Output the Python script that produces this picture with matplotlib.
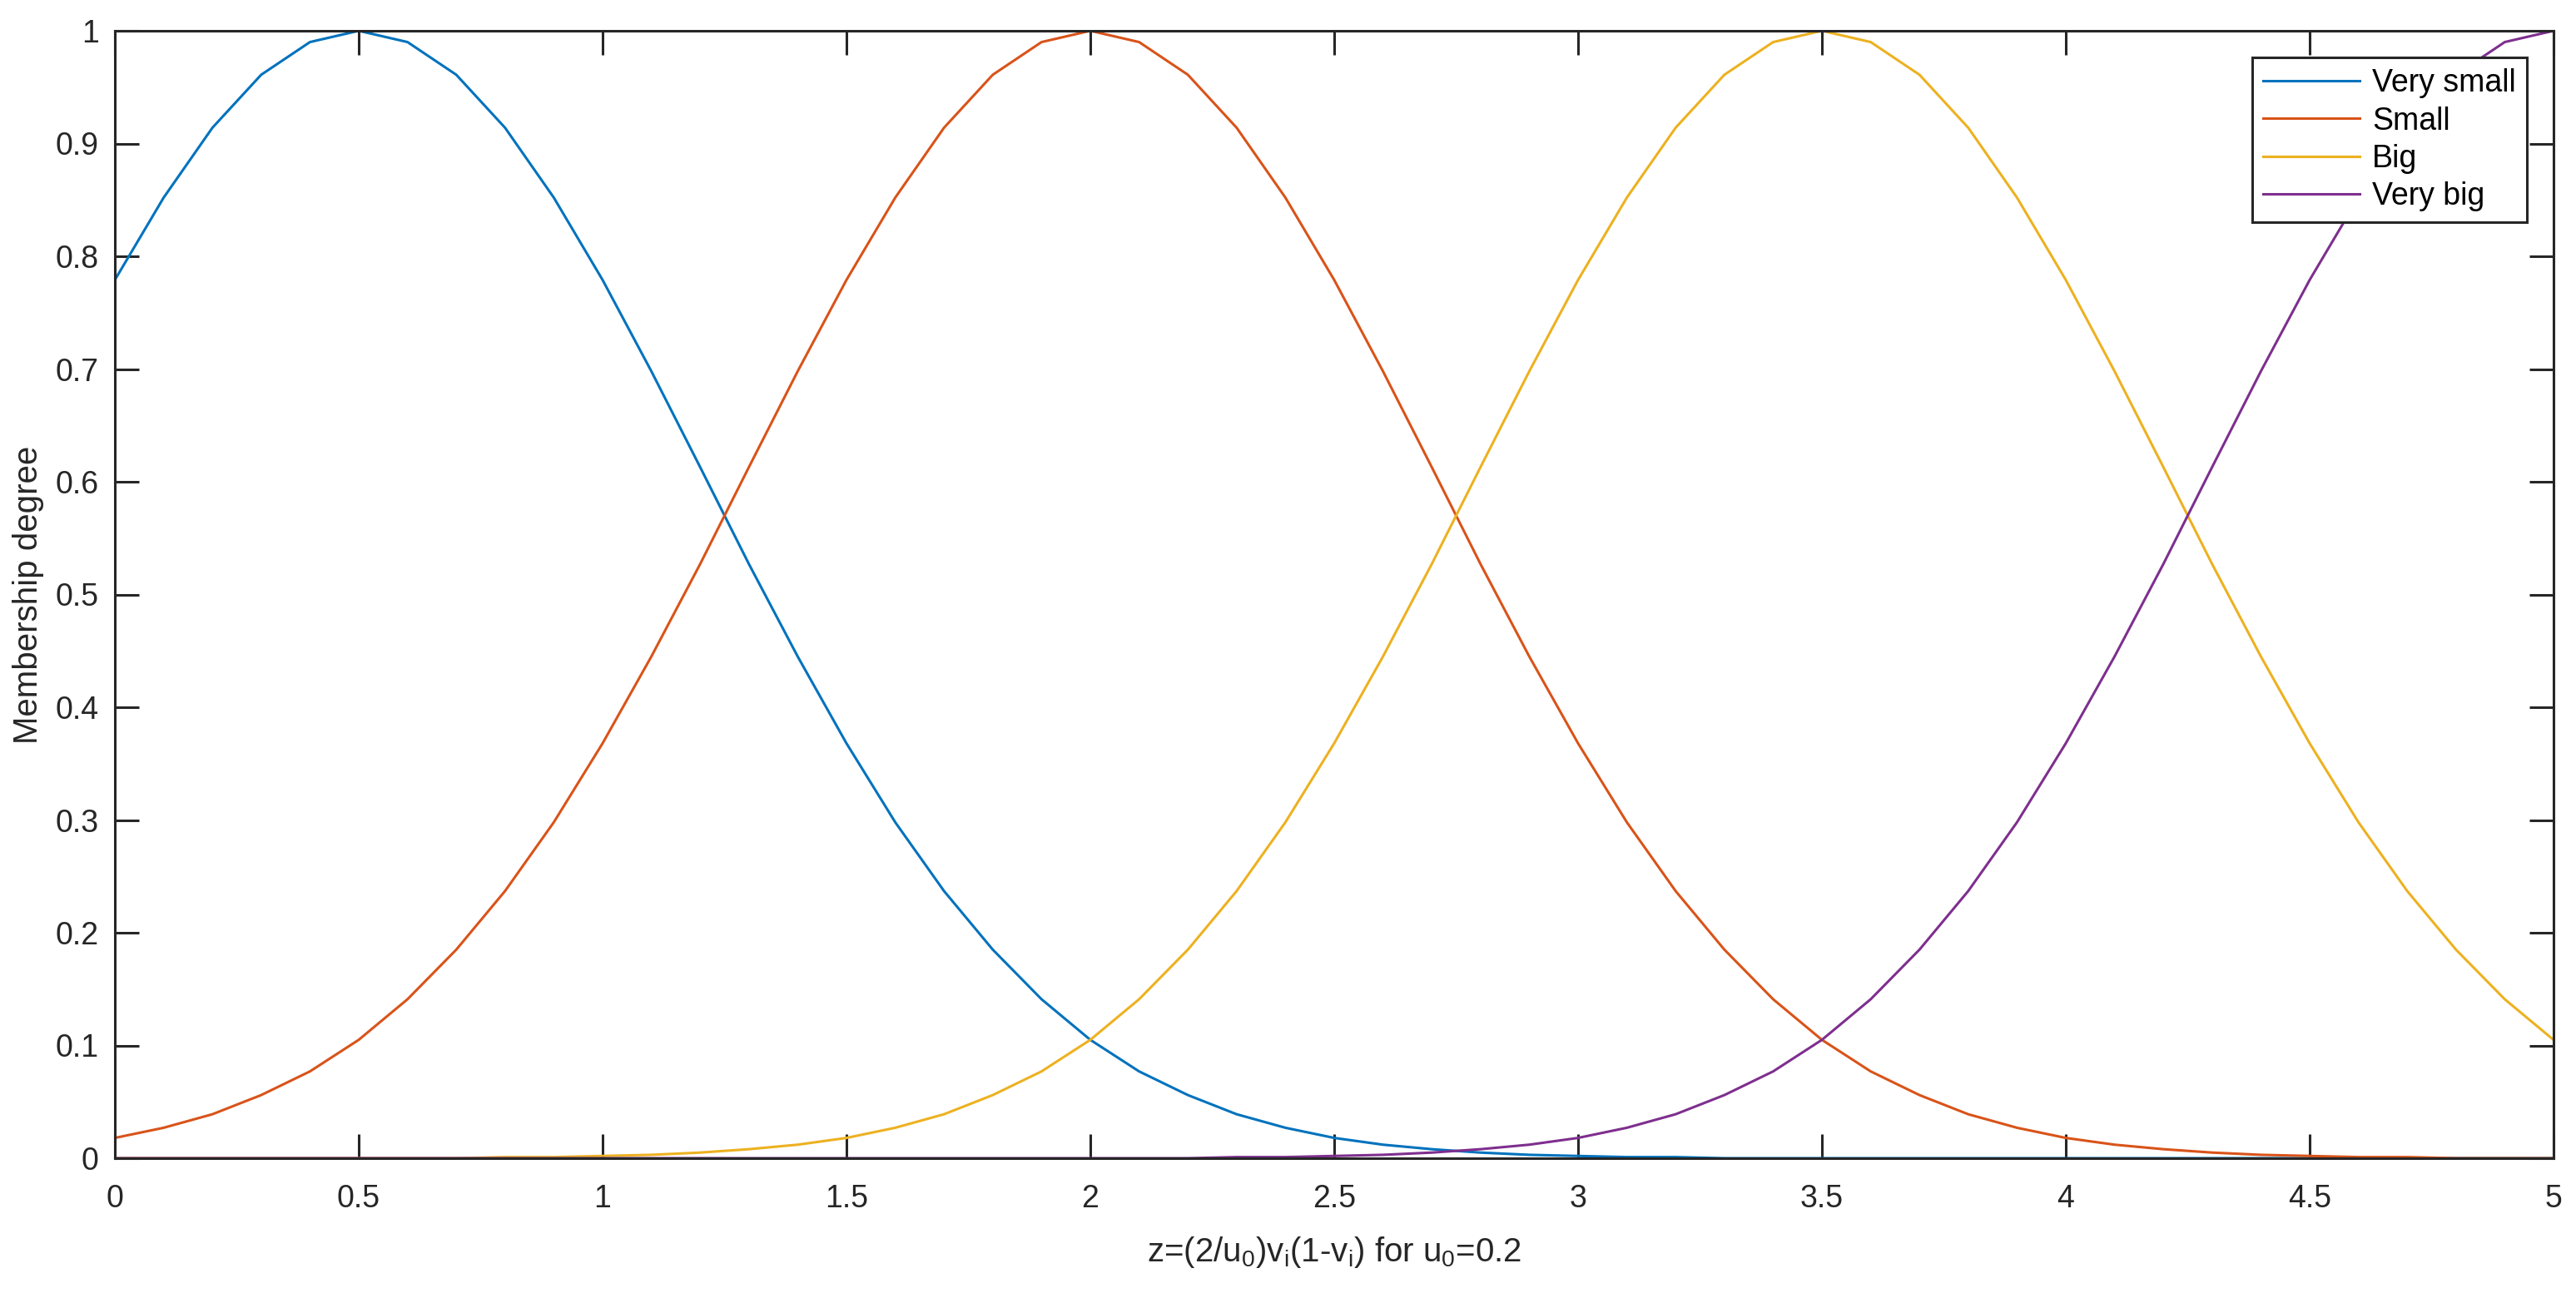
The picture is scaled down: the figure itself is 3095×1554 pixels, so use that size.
import numpy as np
import matplotlib
matplotlib.use('Agg')
import matplotlib.pyplot as plt

font = {'family': 'Liberation Sans', 'weight': 'normal', 'size': 27}
plt.rc('font', **font)
plt.rc('mathtext', fontset='custom', rm='Liberation Sans', it='Liberation Sans')

# sample points on the z axis
z = [0.0, 0.1, 0.2, 0.3, 0.4, 0.5, 0.6, 0.7, 0.8, 0.9,
     1.0, 1.1, 1.2, 1.3, 1.4, 1.5, 1.6, 1.7, 1.8, 1.9,
     2.0, 2.1, 2.2, 2.3, 2.4, 2.5, 2.6, 2.7, 2.8, 2.9,
     3.0, 3.1, 3.2, 3.3, 3.4, 3.5, 3.6, 3.7, 3.8, 3.9,
     4.0, 4.1, 4.2, 4.3, 4.4, 4.5, 4.6, 4.7, 4.8, 4.9, 5.0]

very_small = [0.779, 0.852, 0.914, 0.961, 0.990, 1.000, 0.990, 0.961, 0.914, 0.852,
              0.779, 0.698, 0.613, 0.527, 0.445, 0.368, 0.298, 0.237, 0.185, 0.141,
              0.105, 0.077, 0.056, 0.039, 0.027, 0.018, 0.012, 0.008, 0.005, 0.003,
              0.002, 0.001, 0.001, 0.000, 0.000, 0.000, 0.000, 0.000, 0.000, 0.000,
              0.000, 0.000, 0.000, 0.000, 0.000, 0.000, 0.000, 0.000, 0.000, 0.000, 0.000]

small = [0.018, 0.027, 0.039, 0.056, 0.077, 0.105, 0.141, 0.185, 0.237, 0.298,
         0.368, 0.445, 0.527, 0.613, 0.698, 0.779, 0.852, 0.914, 0.961, 0.990,
         1.000, 0.990, 0.961, 0.914, 0.852, 0.779, 0.698, 0.613, 0.527, 0.445,
         0.368, 0.298, 0.237, 0.185, 0.141, 0.105, 0.077, 0.056, 0.039, 0.027,
         0.018, 0.012, 0.008, 0.005, 0.003, 0.002, 0.001, 0.001, 0.000, 0.000, 0.000]

big = [0.000, 0.000, 0.000, 0.000, 0.000, 0.000, 0.000, 0.000, 0.001, 0.001,
       0.002, 0.003, 0.005, 0.008, 0.012, 0.018, 0.027, 0.039, 0.056, 0.077,
       0.105, 0.141, 0.185, 0.237, 0.298, 0.368, 0.445, 0.527, 0.613, 0.698,
       0.779, 0.852, 0.914, 0.961, 0.990, 1.000, 0.990, 0.961, 0.914, 0.852,
       0.779, 0.698, 0.613, 0.527, 0.445, 0.368, 0.298, 0.237, 0.185, 0.141, 0.105]

very_big = [0.000, 0.000, 0.000, 0.000, 0.000, 0.000, 0.000, 0.000, 0.000, 0.000,
            0.000, 0.000, 0.000, 0.000, 0.000, 0.000, 0.000, 0.000, 0.000, 0.000,
            0.000, 0.000, 0.000, 0.001, 0.001, 0.002, 0.003, 0.005, 0.008, 0.012,
            0.018, 0.027, 0.039, 0.056, 0.077, 0.105, 0.141, 0.185, 0.237, 0.298,
            0.368, 0.445, 0.527, 0.613, 0.698, 0.779, 0.852, 0.914, 0.961, 0.990, 1.000]

labels = ['Very small', 'Small', 'Big', 'Very big']
colors = ['#0072BD', '#D95319', '#EDB120', '#7E2F8E']
axis_color = '#262626'

fig = plt.figure(figsize=(30.95, 15.54), dpi=100)
ax = fig.add_axes([138/3095, 1-1392/1554, (3068-138)/3095, (1392-37)/1554])

for series, lab, col in zip([very_small, small, big, very_big], labels, colors):
    ax.plot(z, series, '-', color=col, lw=2.2, label=lab)

ax.set_xlim(0, 5)
ax.set_ylim(0, 1)
ax.set_xticks([0, 0.5, 1, 1.5, 2, 2.5, 3, 3.5, 4, 4.5, 5])
ax.set_xticklabels(['0', '0.5', '1', '1.5', '2', '2.5', '3', '3.5', '4', '4.5', '5'])
ax.set_yticks([0, 0.1, 0.2, 0.3, 0.4, 0.5, 0.6, 0.7, 0.8, 0.9, 1])
ax.set_yticklabels(['0', '0.1', '0.2', '0.3', '0.4', '0.5', '0.6', '0.7', '0.8', '0.9', '1'])
ax.tick_params(direction='in', length=21, width=2.2, color=axis_color, labelcolor=axis_color,
               top=True, right=True, labelsize=27)
ax.tick_params(axis='x', pad=22)
ax.tick_params(axis='y', pad=14)
for s in ax.spines.values():
    s.set_color(axis_color)
    s.set_linewidth(2.2)

ax.set_xlabel(r'z=(2/u$_0$)v$_i$(1-v$_i$) for u$_0$=0.2', fontsize=29, color=axis_color, labelpad=18)
ax.set_ylabel('Membership degree', fontsize=29, color=axis_color, labelpad=10)

leg = ax.legend(loc='upper right', bbox_to_anchor=(3036/3095, 1-69/1554),
                bbox_transform=fig.transFigure, borderaxespad=0, fancybox=False,
                edgecolor=axis_color, framealpha=1, fontsize=27, handlelength=3.1,
                labelspacing=0.25, borderpad=0.35, handletextpad=0.4)
leg.get_frame().set_linewidth(2.2)

fig.savefig('out.png', dpi=100, facecolor='w')
